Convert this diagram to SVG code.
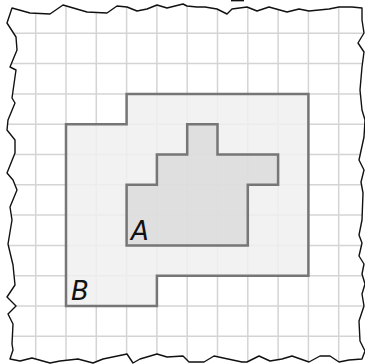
<svg xmlns="http://www.w3.org/2000/svg" width="365" height="364" viewBox="0 0 365 364">
<style>
.grid line{stroke:#d4d4d4;stroke-width:1.5}
.region{stroke:#767676;stroke-width:2.5;stroke-linejoin:miter}
.lbl{font-family:"DejaVu Sans",sans-serif;font-style:oblique;font-size:26px;fill:#111}
.edge{fill:none;stroke:#111;stroke-width:1.4;stroke-linejoin:round}
</style>
<defs>
<path id="paper" d="M12,8 L30,13 L50,14 L63,5 L87,12 L107,13 L117,6 L127,7 L137,11 L147,9 L157,5 L167,8 L183,4 L187,6 L197,7 L205,7 L217,9 L227,14 L232,9 L247,7 L257,11 L269,7 L287,12 L299,9 L309,11 L329,9 L339,7 L352,7 L362,8 L362,20 L364,33 L358,43 L364,52 L362,67 L360,90 L362,110 L365,120 L364,137 L359,160 L364,170 L361,182 L363,193 L362,220 L359,235 L362,243 L359,256 L364,264 L362,274 L365,284 L362,294 L364,306 L359,321 L360,341 L365,351 L362,359 L349,360 L339,362 L330,356 L320,356 L309,362 L292,356 L282,359 L270,361 L259,356 L247,362 L242,362 L214,356 L204,362 L189,362 L183,356 L167,357 L157,354 L140,359 L133,363 L127,354 L103,359 L93,363 L78,359 L60,361 L50,363 L32,358 L20,361 L10,359 L13,350 L12,344 L13,324 L8,314 L16,306 L7,297 L15,285 L13,265 L8,244 L12,220 L10,207 L17,190 L13,180 L7,173 L15,153 L15,140 L7,130 L8,120 L15,103 L12,98 L16,70 L10,67 L17,50 L16,37 L7,23 Z"/>
<clipPath id="clip"><use href="#paper"/></clipPath>
</defs>
<rect width="365" height="364" fill="#fff"/>
<use href="#paper" fill="#fff"/>
<g clip-path="url(#clip)">
<g class="grid">
<line x1="35.7" y1="0" x2="35.7" y2="364"/>
<line x1="66" y1="0" x2="66" y2="364"/>
<line x1="96.3" y1="0" x2="96.3" y2="364"/>
<line x1="126.6" y1="0" x2="126.6" y2="364"/>
<line x1="156.9" y1="0" x2="156.9" y2="364"/>
<line x1="187.2" y1="0" x2="187.2" y2="364"/>
<line x1="217.5" y1="0" x2="217.5" y2="364"/>
<line x1="247.8" y1="0" x2="247.8" y2="364"/>
<line x1="278.1" y1="0" x2="278.1" y2="364"/>
<line x1="308.4" y1="0" x2="308.4" y2="364"/>
<line x1="338.7" y1="0" x2="338.7" y2="364"/>
<line x1="0" y1="33.3" x2="365" y2="33.3"/>
<line x1="0" y1="63.6" x2="365" y2="63.6"/>
<line x1="0" y1="93.9" x2="365" y2="93.9"/>
<line x1="0" y1="124.2" x2="365" y2="124.2"/>
<line x1="0" y1="154.5" x2="365" y2="154.5"/>
<line x1="0" y1="184.8" x2="365" y2="184.8"/>
<line x1="0" y1="215.1" x2="365" y2="215.1"/>
<line x1="0" y1="245.4" x2="365" y2="245.4"/>
<line x1="0" y1="275.7" x2="365" y2="275.7"/>
<line x1="0" y1="306" x2="365" y2="306"/>
<line x1="0" y1="336.3" x2="365" y2="336.3"/>
</g>
</g>
<g id="regionB">
<polygon class="region" fill="#f0f0f0" fill-opacity="0.85" points="66,124.2 126.6,124.2 126.6,93.9 308.4,93.9 308.4,275.7 156.9,275.7 156.9,306 66,306"/>
<text class="lbl" x="71" y="299.5">B</text>
</g>
<g id="regionA">
<polygon class="region" fill="#d8d8d8" fill-opacity="0.75" points="126.6,184.8 156.9,184.8 156.9,154.5 187.2,154.5 187.2,124.2 217.5,124.2 217.5,154.5 278.1,154.5 278.1,184.8 247.8,184.8 247.8,245.4 126.6,245.4"/>
<text class="lbl" x="131" y="239.5">A</text>
</g>
<use href="#paper" class="edge"/>
<line x1="231" y1="0.6" x2="244" y2="0.6" stroke="#111" stroke-width="1.5"/>
</svg>
